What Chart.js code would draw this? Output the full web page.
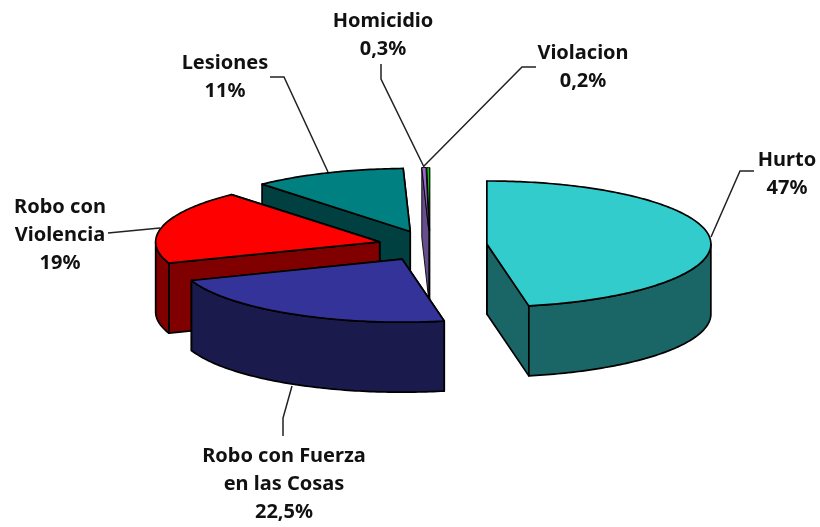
<!DOCTYPE html>
<html>
<head>
<meta charset="utf-8">
<title>Delitos</title>
<script src="https://cdn.jsdelivr.net/npm/chart.js@4"></script>
<style>
  body { margin: 0; background: #fff; }
  canvas { display: block; filter: blur(0.45px); }
</style>
</head>
<body>
<canvas id="pieChart" width="820" height="527"></canvas>
<script>
const categories = ['Hurto', 'Robo con Fuerza en las Cosas', 'Robo con Violencia', 'Lesiones', 'Homicidio', 'Violacion'];
const percentages = [47, 22.5, 19, 11, 0.3, 0.2];
const percentLabels = ['47%', '22,5%', '19%', '11%', '0,3%', '0,2%'];

const topColors = ['#33CCCC', '#333399', '#FF0000', '#008080', '#9966CC', '#00CC00'];
const wallColors = ['#1A6666', '#1A1A4D', '#800000', '#004040', '#664D8C', '#006600'];

// how far each slice is pulled out, as a share of the radius
const explode = [0.255, 0.25, 0.232, 0.24, 0.238, 0.236];
// back to front, the two thin slices before the big ones
const paintOrder = [3, 5, 4, 2, 0, 1];

const view = { cx: 430, cy: 245.5, rx: 224, ry: 63, depth: 70 };

// wrapped text of each label, with its centre and the leader line to the pie
const labelLines = [
    ['Hurto'],
    ['Robo con Fuerza', 'en las Cosas'],
    ['Robo con', 'Violencia'],
    ['Lesiones'],
    ['Homicidio'],
    ['Violacion']
];
const labelCentres = [[787, 160], [284, 456], [60, 207], [225, 63], [383, 21], [583, 53]];
const leaders = [
    [[711, 237], [740, 171], [754, 171]],
    [[292, 386], [283, 418], [283, 436]],
    [[160, 228], [108, 233]],
    [[328, 172], [284, 77], [270, 77]],
    [[424, 167], [381, 79], [381, 64]],
    [[424, 166], [522, 67], [536, 67]]
];

function facePath(ctx, points) {
    ctx.beginPath();
    points.forEach((p, i) => i ? ctx.lineTo(p[0], p[1]) : ctx.moveTo(p[0], p[1]));
    ctx.closePath();
}

function fillFace(ctx, points, color) {
    facePath(ctx, points);
    ctx.fillStyle = color;
    ctx.fill();
    ctx.stroke();
}

const pie3d = {
    id: 'pie3d',
    // the library has worked out the angles, we only project them
    beforeDatasetsDraw(chart) {
        const ctx = chart.ctx;
        const arcs = chart.getDatasetMeta(0).data;
        ctx.save();
        ctx.strokeStyle = '#000';
        ctx.lineJoin = 'round';
        paintOrder.forEach(i => {
            // the slivers would vanish under the normal outline
            ctx.lineWidth = arcs[i].circumference < 0.05 ? 0.9 : 1.7;
            drawSlice(ctx, arcs[i], i);
        });
        ctx.restore();
        return false;
    },
    afterDraw(chart) {
        const ctx = chart.ctx;
        ctx.save();
        ctx.strokeStyle = '#222';
        ctx.lineWidth = 1.5;
        leaders.forEach(points => {
            ctx.beginPath();
            points.forEach((p, i) => i ? ctx.lineTo(p[0], p[1]) : ctx.moveTo(p[0], p[1]));
            ctx.stroke();
        });
        ctx.fillStyle = '#111';
        ctx.font = 'bold 20px "Noto Sans"';
        ctx.textAlign = 'center';
        ctx.textBaseline = 'middle';
        categories.forEach((name, i) => {
            const lines = labelLines[i].concat(percentLabels[i]);
            lines.forEach((line, n) => {
                ctx.fillText(line, labelCentres[i][0], labelCentres[i][1] + n * 28.3);
            });
        });
        ctx.restore();
    }
};

function drawSlice(ctx, arc, i) {
    const mid = (arc.startAngle + arc.endAngle) / 2;
    const ax = view.cx + Math.cos(mid) * explode[i] * view.rx;
    const ay = view.cy + Math.sin(mid) * explode[i] * view.ry;
    const rim = a => [ax + Math.cos(a) * view.rx, ay + Math.sin(a) * view.ry];
    const down = p => [p[0], p[1] + view.depth];
    const sweep = (from, to) => {
        const steps = Math.max(2, Math.ceil((to - from) * 60));
        const pts = [];
        for (let s = 0; s <= steps; s++) pts.push(rim(from + (to - from) * s / steps));
        return pts;
    };

    const apex = [ax, ay];
    const first = rim(arc.startAngle);
    const last = rim(arc.endAngle);

    // radial walls, end one first so that the start one hides it on the left side
    fillFace(ctx, [apex, last, down(last), down(apex)], wallColors[i]);
    fillFace(ctx, [apex, first, down(first), down(apex)], wallColors[i]);

    // only the part of the rim on the viewer's side is visible
    const from = Math.max(arc.startAngle, 0);
    const to = Math.min(arc.endAngle, Math.PI);
    if (to > from) {
        const edge = sweep(from, to);
        fillFace(ctx, edge.concat(edge.map(down).reverse()), wallColors[i]);
    }

    fillFace(ctx, [apex].concat(sweep(arc.startAngle, arc.endAngle)), topColors[i]);
}

new Chart(document.getElementById('pieChart').getContext('2d'), {
    type: 'pie',
    data: {
        labels: categories,
        datasets: [{
            data: percentages,
            backgroundColor: topColors
        }]
    },
    options: {
        responsive: false,
        animation: false,
        plugins: {
            legend: { display: false },
            tooltip: { enabled: false }
        }
    },
    plugins: [pie3d]
});
</script>
</body>
</html>
